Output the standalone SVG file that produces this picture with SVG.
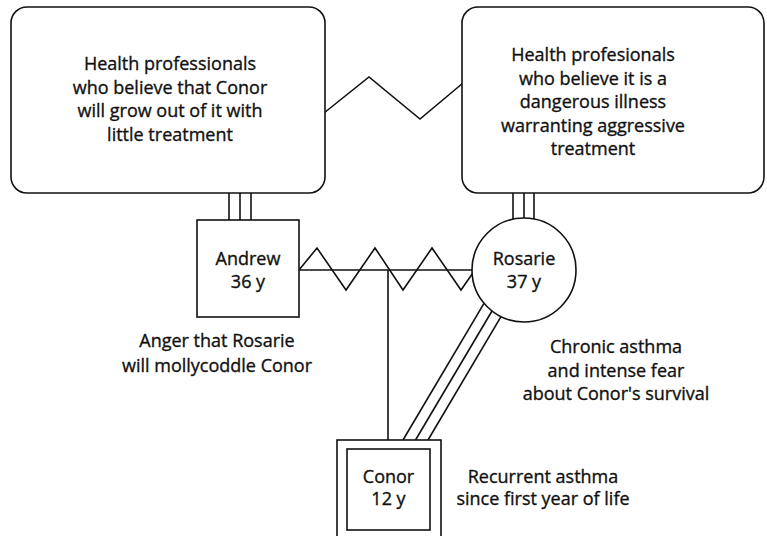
<svg xmlns="http://www.w3.org/2000/svg" width="767" height="536" viewBox="0 0 767 536">
<style>
.s{fill:none;stroke:#111;stroke-width:1.6;stroke-linejoin:miter}
.n{fill:#fff;stroke:#111;stroke-width:1.6}
text{font-family:"Open Sans","Liberation Sans",sans-serif;font-size:18px;fill:#111;stroke:#111;stroke-width:0.35;text-anchor:middle}
</style>
<rect width="767" height="536" fill="#fff"/>
<g id="connectors">
<polyline class="s" points="324,113 369,77 420,119 463,83"/>
<line class="s" x1="229" y1="193" x2="229" y2="220"/>
<line class="s" x1="240" y1="193" x2="240" y2="220"/>
<line class="s" x1="251" y1="193" x2="251" y2="220"/>
<line class="s" x1="513" y1="193" x2="513" y2="219.5"/>
<line class="s" x1="524" y1="193" x2="524" y2="218.5"/>
<line class="s" x1="534" y1="193" x2="534" y2="219.5"/>
<line class="s" x1="299" y1="270" x2="472" y2="270"/>
<polyline class="s" points="299,270 317,248 346,290 375,248 403,290 432,248 461,290 472.5,273.5"/>
<line class="s" x1="388" y1="270" x2="388" y2="440"/>
<line class="s" x1="403" y1="440" x2="484" y2="303.3"/>
<line class="s" x1="415.5" y1="440" x2="492" y2="311"/>
<line class="s" x1="428" y1="440" x2="501" y2="316.7"/>
</g>
<g id="hp-left">
<rect class="n" x="11" y="7" width="314" height="186" rx="16"/>
<text x="170" y="70">Health professionals</text>
<text x="170" y="94">who believe that Conor</text>
<text x="170" y="117">will grow out of it with</text>
<text x="170" y="141">little treatment</text>
</g>
<g id="hp-right">
<rect class="n" x="462" y="7" width="302" height="186" rx="16"/>
<text x="593" y="61">Health profesionals</text>
<text x="593" y="85">who believe it is a</text>
<text x="593" y="108">dangerous illness</text>
<text x="593" y="132">warranting aggressive</text>
<text x="593" y="155">treatment</text>
</g>
<g id="andrew">
<rect class="n" x="197" y="220" width="102" height="97"/>
<text x="248" y="265">Andrew</text>
<text x="248" y="288">36 y</text>
</g>
<g id="rosarie">
<circle class="n" cx="524" cy="270" r="52"/>
<text x="524" y="265">Rosarie</text>
<text x="524" y="288">37 y</text>
</g>
<g id="conor">
<rect class="n" x="337" y="440" width="104" height="110"/>
<rect class="n" x="347" y="449" width="83" height="81"/>
<text x="388.5" y="483">Conor</text>
<text x="388.5" y="505">12 y</text>
</g>
<g id="note-andrew">
<text x="217" y="347">Anger that Rosarie</text>
<text x="217" y="372">will mollycoddle Conor</text>
</g>
<g id="note-rosarie">
<text x="616" y="353">Chronic asthma</text>
<text x="616" y="377">and intense fear</text>
<text x="616" y="400">about Conor's survival</text>
</g>
<g id="note-conor">
<text x="543" y="483">Recurrent asthma</text>
<text x="543" y="505">since first year of life</text>
</g>
</svg>
